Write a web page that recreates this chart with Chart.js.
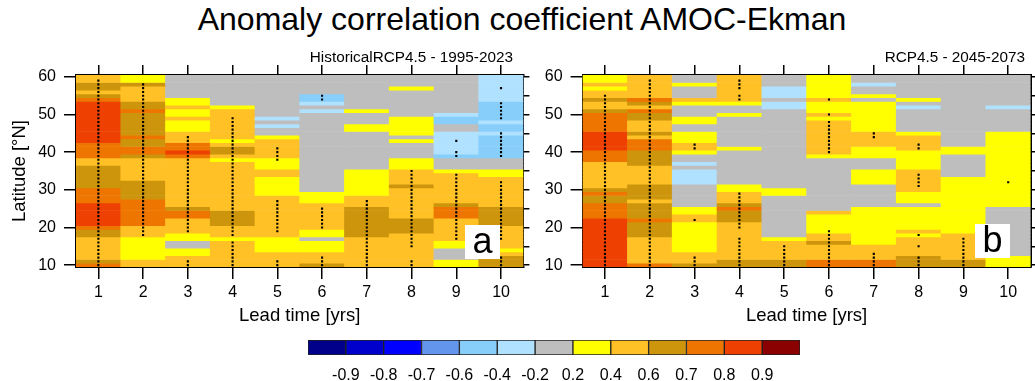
<!DOCTYPE html>
<html>
<head>
<meta charset="utf-8">
<script src="https://cdn.jsdelivr.net/npm/chart.js@4.4.1/dist/chart.umd.min.js"></script>
<style>
  body { margin: 0; background: #fff; font-family: "Liberation Sans", Arial, sans-serif; color: #000; }
  #wrap { position: relative; width: 1035px; height: 381px; overflow: hidden; }
  canvas, .txt { position: absolute; }
  #title { left: 0; top: 1px; width: 1044px; text-align: center; font-size: 32px; line-height: 36px; }
  .sub { font-size: 15.3px; line-height: 17px; text-align: right; }
  .tag { background: #fff; font-size: 36px; line-height: 32px; text-align: center; }
</style>
</head>
<body>
<div id="wrap">
  <div id="title" class="txt">Anomaly correlation coefficient AMOC-Ekman</div>
  <canvas id="panelA" width="545" height="275" style="left:0;top:55px"></canvas>
  <canvas id="panelB" width="507" height="275" style="left:528px;top:55px"></canvas>
  <canvas id="cbar" width="520" height="46" style="left:300px;top:335px"></canvas>
  <div class="txt sub" style="left:290px;top:48px;width:223px">HistoricalRCP4.5 - 1995-2023</div>
  <div class="txt sub" style="left:800px;top:48px;width:225px">RCP4.5 - 2045-2073</div>
  <div class="txt tag" style="left:465px;top:225px;width:35px;height:34px">a</div>
  <div class="txt tag" style="left:975px;top:224px;width:35px;height:34px">b</div>
</div>
<script>
const FONT = '"Liberation Sans", Arial, sans-serif';

const leadTimes = ['1', '2', '3', '4', '5', '6', '7', '8', '9', '10'];
// latitude rows, north to south
const latitudes = [60, 59, 58, 57, 56, 55, 54, 53, 52, 51, 50, 49, 48, 47, 46, 45, 44,
  43, 42, 41, 40, 39, 38, 37, 36, 35, 34, 33, 32, 31, 30, 29, 28, 27, 26, 25, 24,
  23, 22, 21, 20, 19, 18, 17, 16, 15, 14, 13, 12, 11, 10];
const latTicks = [10, 20, 30, 40, 50, 60];
const latMinorTicks = [10, 15, 20, 25, 30, 35, 40, 45, 50, 55, 60];

// contour levels and fill colours
const levels = [-0.9, -0.8, -0.7, -0.6, -0.4, -0.2, 0.2, 0.4, 0.6, 0.7, 0.8, 0.9];
const levelLabels = ['-0.9', '-0.8', '-0.7', '-0.6', '-0.4', '-0.2', '0.2', '0.4', '0.6', '0.7', '0.8', '0.9'];
const palette = ['#00008b', '#0000cd', '#0000ff', '#6495ed', '#87cefa', '#b0e2ff', '#bebebe',
  '#ffff00', '#ffc125', '#cd950c', '#ee7600', '#ee4000', '#8b0000'];

// correlation per class code (class centre)
const classValues = { B: -0.5, b: -0.3, g: 0.0, y: 0.3, o: 0.5, d: 0.65, r: 0.75, R: 0.85 };

// one string per lead time: runs of "<class><rows>" from 60N down to 10N
const histAcc = [
  'o2 d2 o1 d1 r1 R11 r4 o2 d6 r4 R6 r1 d2 o6 d1 r1',
  'y2 d1 o4 d2 r1 d6 r1 d2 r2 d1 o6 d5 r7 o3 y6 o2',
  'g6 y2 o1 y2 o1 y3 o3 r2 R1 r1 o13 d1 r2 o4 y2 g2 y2 o3',
  'g8 y1 o8 y1 o1 d2 o1 y1 o13 d4 o3 y1 o7',
  'g11 b1 g1 b1 g2 y1 o5 y3 o2 y5 o11 y4 o4',
  'g5 B2 b1 g1 b1 g21 y3 o7 y2 g1 y3 o3 d1',
  'g9 y1 g3 y2 g10 y7 o3 d8 o8',
  'g3 y1 g7 y5 g1 y1 g4 y3 o4 d1 o8 d4 o9',
  'g10 b1 B2 g2 b6 B1 g3 y1 o8 d1 r3 o6 y2 g3 y2',
  'b7 B5 b1 B2 b1 B6 g3 y2 o8 d5 o6 y1 o1 d3'
];
const futAcc = [
  'y2 o1 y1 o2 d1 o2 d1 r5 R5 r3 o7 d1 r1 d2 r4 R13',
  'o6 r1 d1 o1 r1 d2 o3 d1 o1 r3 d4 o5 d4 o1 d4 r1 d4 o7 r1',
  'g2 y1 g3 o1 y1 g3 y2 g2 y3 o2 y1 g2 b1 g1 b4 g6 y2 o2 y8 o3 d1',
  'o7 y1 g2 y1 g8 y1 g9 y2 o3 d1 r1 d3 o10 d2',
  'g3 b3 g1 b2 g21 y2 g11 y1 o5 d2',
  'y6 o1 y3 o1 y1 o9 y1 g14 o1 y5 o2 d1 o4 r2',
  'g2 b1 g2 y1 g1 y8 o4 y3 g3 y4 g6 y10 o4 r2',
  'g6 y1 g1 b1 g6 y1 o4 y5 o6 y3 g1 y6 o1 y1 o5 d3',
  'g19 y2 g6 y15 o7 d2',
  'g8 b1 g6 y20 g13 y3'
];

// significant latitudes (inclusive ranges, north..south) per lead time
const histSig = [
  [[59, 10]], [[58, 18]], [[44, 19], [11, 10]], [[49, 18], [16, 10]],
  [[41, 38], [27, 19], [11, 10]], [[55, 54], [25, 20], [12, 10]], [[27, 10]],
  [[35, 15], [11, 10]], [[43, 43], [40, 39], [34, 17]],
  [[57, 57], [53, 49], [45, 39], [32, 17], [12, 10]]
];
const futSig = [
  [[55, 10]], [[59, 10]], [[42, 41], [22, 22], [12, 10]],
  [[59, 57], [55, 54], [29, 20], [17, 10]], [[15, 10]],
  [[54, 54], [50, 50], [48, 40], [19, 10]], [[45, 44], [13, 10]],
  [[42, 41], [34, 31], [18, 18], [15, 15], [12, 10]], [[17, 10]], [[32, 32]]
];

function expandRuns(str) {
  const out = [];
  str.split(' ').forEach(tok => {
    const code = tok[0];
    const n = parseInt(tok.slice(1), 10);
    for (let i = 0; i < n; i++) out.push(classValues[code]);
  });
  return out;
}

function colorFor(v) {
  let k = 0;
  while (k < levels.length && levels[k] < v) k++;
  return palette[k];
}

function makePanel(id, acc, sig, leftWidth, rightWidth, showTitle) {
  const cols = acc.map(expandRuns);
  const cells = latitudes.map((lat, i) => ({
    type: 'bar',
    order: 1,
    data: leadTimes.map(() => [lat - 0.5, lat + 0.5]),
    backgroundColor: cols.map(c => colorFor(c[i])),
    borderWidth: 0,
    grouped: false,
    barPercentage: 1,
    categoryPercentage: 1
  }));
  const dots = [];
  sig.forEach((ranges, c) => {
    ranges.forEach(([hi, lo]) => {
      for (let lat = hi; lat >= lo; lat--) dots.push({ x: leadTimes[c], y: lat });
    });
  });
  const frame = { display: true, color: '#000', width: 2 };
  const tickGrid = (len) => ({ display: true, drawOnChartArea: false, drawTicks: true,
    tickLength: len, color: '#000', lineWidth: 1.5, offset: false });

  return new Chart(document.getElementById(id), {
    type: 'bar',
    data: {
      labels: leadTimes,
      datasets: [{
        type: 'line', order: 0, data: dots, showLine: false,
        pointStyle: 'rect', pointRadius: 1.5, pointBorderWidth: 0,
        pointBackgroundColor: '#000', xAxisID: 'x', yAxisID: 'y'
      }].concat(cells)
    },
    options: {
      responsive: false,
      animation: false,
      events: [],
      layout: { padding: 0 },
      plugins: { legend: { display: false }, tooltip: { enabled: false } },
      scales: {
        x: {
          type: 'category', position: 'bottom', offset: true,
          grid: tickGrid(12), border: frame,
          ticks: { color: '#000', font: { family: FONT, size: 16 }, padding: 4, maxRotation: 0, autoSkip: false },
          title: { display: true, text: 'Lead time [yrs]', color: '#000',
            font: { family: FONT, size: 18.5 }, padding: { top: 0, bottom: 3 } },
          afterFit: s => { s.height = 63; }
        },
        xTop: {
          type: 'category', position: 'top', offset: true,
          grid: tickGrid(10), border: frame, ticks: { display: false },
          afterFit: s => { s.height = 20; }
        },
        y: {
          type: 'linear', position: 'left', min: 9.5, max: 60.5,
          afterBuildTicks: s => { s.ticks = latTicks.map(v => ({ value: v })); },
          grid: tickGrid(12), border: frame,
          ticks: { color: '#000', font: { family: FONT, size: 16 }, padding: 8 },
          title: { display: showTitle, text: 'Latitude [°N]', color: '#000',
            font: { family: FONT, size: 18.5 }, padding: { top: 9, bottom: 0 } },
          afterFit: s => { s.width = leftWidth; }
        },
        yRight: {
          type: 'linear', position: 'right', min: 9.5, max: 60.5,
          afterBuildTicks: s => { s.ticks = latMinorTicks.map(v => ({ value: v })); },
          grid: tickGrid(6), border: frame, ticks: { display: false },
          afterFit: s => { s.width = rightWidth; }
        }
      }
    }
  });
}

makePanel('panelA', histAcc, histSig, 76, 21.6, true);
makePanel('panelB', futAcc, futSig, 54.6, 4.4, false);

// colour bar
new Chart(document.getElementById('cbar'), {
  type: 'bar',
  data: {
    labels: [''],
    datasets: palette.map((c, i) => ({
      data: [[i, i + 1]], backgroundColor: c, borderColor: '#222', borderWidth: 1,
      borderSkipped: false, grouped: false, barPercentage: 1, categoryPercentage: 1
    }))
  },
  options: {
    indexAxis: 'y',
    responsive: false,
    animation: false,
    events: [],
    layout: { padding: { left: 8, right: 20, top: 5, bottom: 0 } },
    plugins: { legend: { display: false }, tooltip: { enabled: false } },
    scales: {
      x: {
        type: 'linear', min: 0, max: palette.length,
        afterBuildTicks: s => { s.ticks = levels.map((v, i) => ({ value: i + 1 })); },
        ticks: { color: '#000', font: { family: FONT, size: 16 }, padding: 3,
          callback: v => levelLabels[v - 1] },
        grid: { display: false }, border: { display: false },
        afterFit: s => { s.height = 26; }
      },
      y: { display: false }
    }
  }
});
</script>
</body>
</html>
